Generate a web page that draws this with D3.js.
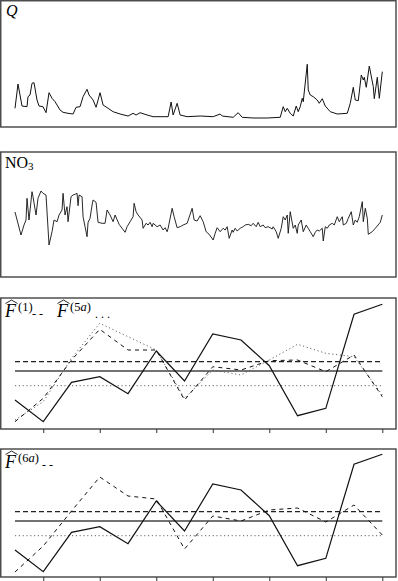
<!DOCTYPE html>
<html><head><meta charset="utf-8">
<script src="https://cdn.jsdelivr.net/npm/d3@7"></script>
<style>body{margin:0;background:#fff}svg{display:block}</style>
</head><body><svg id="c" width="398" height="581"></svg>
<script>
// ---------- data ----------
const qDay = [0,3,7,12,13,15,17,19,22,24,28,31,34,37,40,45,48,53,58,61,65,68,72,74,78,81,85,88,93,98,105,113,118,121,125,132,138,153,156,158,162,165,172,185,198,205,207,218,223,227,238,252,265,268,270,272,275,278,281,283,285,287,288,292,293,295,298,302,304,307,310,315,322,332,335,338,340,343,346,348,349,351,354,358,359,362,364,367];
const qVal = [18.7,43,21,20.3,30.3,32,43.7,44.3,27,21,20.3,14.3,34.3,28.7,25.3,17,14.7,13.7,13,19.7,20.3,30.3,37.7,32,27,19.7,34.3,22,18.7,15.3,13,11,13.7,12,14.3,12,10.3,10.3,25,12,23.7,12,10.3,11,10.3,13,11,9.7,14.3,9.7,9,9,9.7,20.3,15.3,18.7,13.7,11,21,15.3,20.3,28.7,25.3,62.7,37,32,30.3,27,23.7,28.3,21,15.3,13,13.7,23.7,39.7,27,26.3,52,47,49.7,39.7,61,40.3,28.3,49.7,28.7,55.3];

const no3Day = [0,6,9,11,12,14,17,18,21,23,26,28,31,34,37,39,42,44,47,48,50,52,53,56,58,60,62,63,64,67,68,70,72,73,75,77,78,81,83,87,90,92,95,98,100,104,107,110,112,115,118,119,121,123,127,128,131,133,135,137,138,140,142,145,148,150,152,153,157,159,162,165,168,172,177,179,182,185,188,191,194,198,200,202,205,208,210,212,214,217,218,220,222,225,228,230,233,236,238,241,243,245,248,250,253,257,258,261,263,266,268,270,272,273,275,278,280,282,283,286,288,291,293,295,298,300,302,304,307,308,310,312,314,317,319,322,324,327,328,331,333,336,338,340,342,344,347,348,350,352,353,357,360,365,367];
const no3Val = [65,42,52,57,78.7,57,85.3,80.3,62,78.7,86,83.7,82,32,45.3,57,55.3,62,67,83.7,62,70.3,55.3,80.3,82,82.7,83.7,71.3,82,80.3,60.3,50.3,40.3,54.7,58.7,72,77,74.7,54.7,53.7,53.7,67,62,55.3,62,52.7,48.7,44.7,50.3,55.3,60.3,73.7,65.3,62,57,48.7,53.7,52,54.7,50.3,53.7,52,50.3,52,47,49.3,45.3,48.7,68.7,60.3,49.3,50.3,52,53.7,68.7,57,56,61.3,55.3,45.3,42.7,37,43.7,49.3,45.3,48.7,47,50.3,38.7,47,44.7,48.7,46,48.7,50.3,52,52.7,51.3,53.7,50.3,54.7,50.3,52,49.3,50.3,48,50.3,45.3,38.7,48.7,60.3,57,62,43.7,65.3,48.7,52,43.7,52,57,45.3,52,48.7,45.3,40.3,44.7,47,46,48.7,36,50.3,48.7,52,53.7,52,60.3,55.3,60.3,52,53.7,58.7,65.3,52,57,54.7,60.3,75.3,55.3,68.7,58.7,42.7,45.3,48.7,54.7,62];

const periods = [1,2,3,4,5,6,7,8,9,10,11,12,13,14];
const tickPeriods = [2,4,6,8,10,12,14];
const ref   = [29,7.3,46.7,52.3,35.3,78,48,95,89,63.3,13.3,20.7,114.7,124.7];
const f1    = [7.3,30.7,69,99.7,79,79,29,62.3,59,68.3,69,57.3,74,32.3];
const f5a   = [9,27.3,70.7,105.7,92.3,79,30.7,59,54,69,84.7,75.7,72.3,34];
const f6a   = [7,33,68,102,83,80,30,63,58,69,71,57,74,44];
const refMean = 58, f1Mean = 67.3, f5aMean = 43.3, f6aMean = 67.3;

// ---------- layout ----------
const svg = d3.select('#c');
const X0 = 0.75, X1 = 396;
const panels = [
  {top:0.75, bot:127, base:127},
  {top:152, bot:277, base:277},
  {top:298, bot:429, base:429},
  {top:449, bot:577, base:579}
];
panels.forEach(p=>{
  svg.append('rect').attr('x',X0).attr('y',p.top).attr('width',X1-X0).attr('height',p.bot-p.top)
    .attr('fill','none').attr('stroke','#444').attr('stroke-width',1.4);
});

const xDay = d3.scaleLinear([0,367],[15,382.3]);
const xPer = d3.scaleLinear([1,14],[15,382.3]);
const FONT = 'Liberation Serif, serif';

// Panel 1: Q
{
  const p = panels[0];
  const y = d3.scaleLinear([0,126],[p.base,p.base-126]);
  svg.append('path').datum(qDay.map((d,i)=>[d,qVal[i]]))
    .attr('d', d3.line().x(d=>xDay(d[0])).y(d=>y(d[1])))
    .attr('fill','none').attr('stroke','#111').attr('stroke-width',1);
  svg.append('text').attr('x',6).attr('y',16).attr('font-family',FONT)
    .attr('font-style','italic').attr('font-size',16).text('Q');
}
// Panel 2: NO3
{
  const p = panels[1];
  const y = d3.scaleLinear([0,125],[p.base,p.base-125]);
  svg.append('path').datum(no3Day.map((d,i)=>[d,no3Val[i]]))
    .attr('d', d3.line().x(d=>xDay(d[0])).y(d=>y(d[1])))
    .attr('fill','none').attr('stroke','#111').attr('stroke-width',0.9);
  const t = svg.append('text').attr('x',5).attr('y',168).attr('font-family',FONT).attr('font-size',16);
  t.append('tspan').text('NO');
  t.append('tspan').attr('font-size',11).attr('dy',2).text('3');
}

function fhat(x, y, num, letter){
  const g = svg.append('g');
  g.append('text').attr('x',x).attr('y',y).attr('font-family',FONT)
    .attr('font-style','italic').attr('font-size',18).text('F');
  g.append('path').attr('d',`M${x+0.5},${y-13.5} L${x+6.5},${y-17} L${x+12.5},${y-13.5}`)
    .attr('fill','none').attr('stroke','#111').attr('stroke-width',0.9);
  const t = g.append('text').attr('x',x+13).attr('y',y-6).attr('font-family',FONT).attr('font-size',12.5);
  t.append('tspan').text('(' + num);
  if (letter) t.append('tspan').attr('font-style','italic').text(letter);
  t.append('tspan').text(')');
}

function flux(pi, series, hlines){
  const p = panels[pi];
  const y = d3.scaleLinear([0,131],[p.base,p.base-131]);
  hlines.forEach(h=>{
    svg.append('line').attr('x1',xPer(1)).attr('x2',xPer(14)).attr('y1',y(h.v)).attr('y2',y(h.v))
      .attr('stroke',h.color).attr('stroke-width',h.w).attr('stroke-dasharray',h.dash);
  });
  series.forEach(s=>{
    svg.append('path').datum(s.v)
      .attr('d', d3.line().x((d,i)=>xPer(periods[i])).y(d=>y(d)))
      .attr('fill','none').attr('stroke',s.color).attr('stroke-width',s.w).attr('stroke-dasharray',s.dash);
  });
  const ax = d3.axisBottom(xPer).tickValues(tickPeriods).tickSize(4).tickFormat('');
  const g = svg.append('g').attr('transform',`translate(0,${p.bot})`).call(ax);
  g.select('.domain').remove();
  g.selectAll('line').attr('stroke','#333');
}

flux(2, [
  {v:f5a, color:'#555', w:0.9, dash:'1.2,2.6'},
  {v:f1,  color:'#111', w:1, dash:'4,4'},
  {v:ref, color:'#111', w:1.2, dash:null}
], [
  {v:f1Mean, color:'#222', w:1.2, dash:'5,3'},
  {v:refMean, color:'#444', w:1.3, dash:null},
  {v:f5aMean, color:'#666', w:1, dash:'1.2,2.6'}
]);
fhat(5, 317, '1', '');
svg.append('text').attr('x',32).attr('y',318).attr('font-family',FONT).attr('font-size',12).text('- -');
fhat(57, 317, '5', 'a');
svg.append('text').attr('x',95).attr('y',318).attr('font-family',FONT).attr('font-size',12).text('. . .');

flux(3, [
  {v:f6a, color:'#111', w:1, dash:'4,4'},
  {v:ref, color:'#111', w:1.2, dash:null}
], [
  {v:f6aMean, color:'#222', w:1.2, dash:'5,3'},
  {v:refMean, color:'#444', w:1.3, dash:null},
  {v:f5aMean, color:'#666', w:1, dash:'1.2,2.6'}
]);
fhat(5, 468, '6', 'a');
svg.append('text').attr('x',42).attr('y',469).attr('font-family',FONT).attr('font-size',12).text('- -');
</script></body></html>
